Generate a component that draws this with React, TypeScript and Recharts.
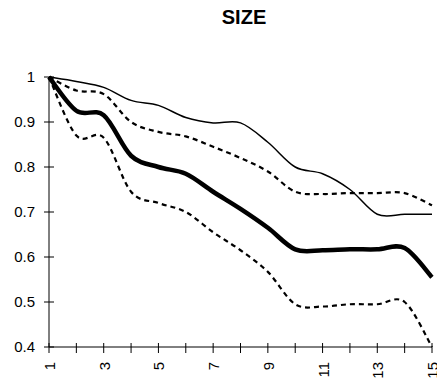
import React from "react";
import { LineChart, Line, XAxis, YAxis } from "recharts";

const steps = [1, 2, 3, 4, 5, 6, 7, 8, 9, 10, 11, 12, 13, 14, 15];
const upperSolid = [1.0, 0.99, 0.977, 0.948, 0.937, 0.91, 0.898, 0.898, 0.855, 0.8, 0.785, 0.75, 0.695, 0.695, 0.695];
const upperDashed = [1.0, 0.97, 0.962, 0.9, 0.878, 0.868, 0.845, 0.82, 0.79, 0.745, 0.74, 0.742, 0.742, 0.742, 0.715];
const middle = [1.0, 0.925, 0.915, 0.825, 0.8, 0.785, 0.745, 0.707, 0.665, 0.617, 0.615, 0.617, 0.617, 0.62, 0.555];
const lowerDashed = [1.0, 0.87, 0.865, 0.745, 0.72, 0.7, 0.655, 0.615, 0.567, 0.495, 0.49, 0.495, 0.495, 0.5, 0.4];
const yTicks = [0.4, 0.5, 0.6, 0.7, 0.8, 0.9, 1];

const data = steps.map((s, i) => ({
  step: s,
  upperSolid: upperSolid[i],
  upperDashed: upperDashed[i],
  middle: middle[i],
  lowerDashed: lowerDashed[i],
}));

const font = "'Liberation Sans', Arial, sans-serif";

// spreadsheet-like smoothed line (catmull-rom as cubic bezier)
const smoothCurve = (context: any) => {
  let pts: number[][] = [];
  return {
    areaStart() {},
    areaEnd() {},
    lineStart() {
      pts = [];
    },
    point(x: number, y: number) {
      pts.push([+x, +y]);
    },
    lineEnd() {
      if (!pts.length) return;
      context.moveTo(pts[0][0], pts[0][1]);
      for (let i = 0; i < pts.length - 1; i++) {
        const p0 = pts[Math.max(i - 1, 0)];
        const p1 = pts[i];
        const p2 = pts[i + 1];
        const p3 = pts[Math.min(i + 2, pts.length - 1)];
        context.bezierCurveTo(
          p1[0] + (p2[0] - p0[0]) / 6,
          p1[1] + (p2[1] - p0[1]) / 6,
          p2[0] - (p3[0] - p1[0]) / 6,
          p2[1] - (p3[1] - p1[1]) / 6,
          p2[0],
          p2[1]
        );
      }
    },
  };
};

// excel-style ticks that cross the axis line
const XTick = (props: any) => {
  const { x, y, payload } = props;
  const v = payload.value;
  return (
    <g>
      <line x1={x} x2={x} y1={y - 4} y2={y + 6} stroke="#000" />
      {v % 2 === 1 && (
        <text
          x={x + 6}
          y={y + 15}
          transform={`rotate(-90 ${x + 6} ${y + 15})`}
          textAnchor="end"
          fontSize={15}
          fontFamily={font}
          fill="#000"
        >
          {v}
        </text>
      )}
    </g>
  );
};

const YTick = (props: any) => {
  const { x, y, payload } = props;
  return (
    <g>
      <line x1={x - 5} x2={x + 5} y1={y} y2={y} stroke="#000" />
      <text x={x - 14} y={y + 5} textAnchor="end" fontSize={15} fontFamily={font} fill="#000">
        {payload.value}
      </text>
    </g>
  );
};

export default function App() {
  return (
    <div style={{ position: "absolute", left: 0, top: 0, width: 437, height: 383, background: "#fff" }}>
      <div
        style={{
          position: "absolute",
          left: 0,
          top: 6,
          width: 488,
          textAlign: "center",
          fontFamily: font,
          fontWeight: "bold",
          fontSize: 20,
          lineHeight: "23px",
        }}
      >
        SIZE
      </div>
      <LineChart width={437} height={383} data={data} margin={{ top: 77, right: 5, bottom: 6, left: 0 }}>
        <XAxis
          dataKey="step"
          type="number"
          domain={[1, 15]}
          ticks={steps}
          interval={0}
          tickLine={false}
          tickSize={0}
          tickMargin={0}
          tick={<XTick />}
          axisLine={{ stroke: "#000" }}
          height={30}
        />
        <YAxis
          type="number"
          domain={[0.4, 1]}
          ticks={yTicks}
          interval={0}
          tickLine={false}
          tickSize={0}
          tickMargin={0}
          tick={<YTick />}
          axisLine={{ stroke: "#000" }}
          width={49}
        />
        <Line type={smoothCurve as any} dataKey="upperSolid" stroke="#000" strokeWidth={1.5} dot={false} isAnimationActive={false} />
        <Line type={smoothCurve as any} dataKey="upperDashed" stroke="#000" strokeWidth={2.2} strokeDasharray="5 4" dot={false} isAnimationActive={false} />
        <Line type={smoothCurve as any} dataKey="middle" stroke="#000" strokeWidth={4.5} dot={false} isAnimationActive={false} />
        <Line type={smoothCurve as any} dataKey="lowerDashed" stroke="#000" strokeWidth={2.2} strokeDasharray="5 4" dot={false} isAnimationActive={false} />
      </LineChart>
    </div>
  );
}
